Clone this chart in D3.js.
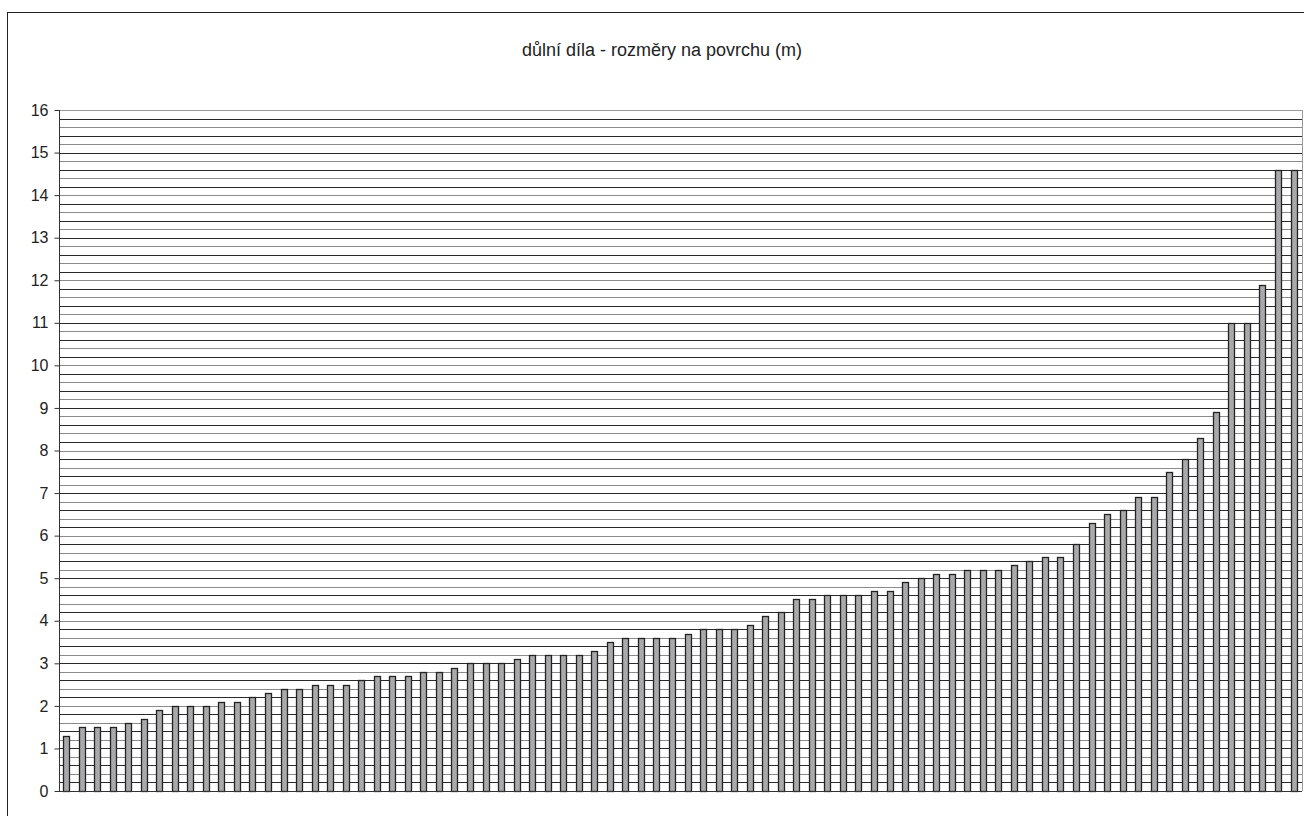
<!DOCTYPE html>
<html>
<head>
<meta charset="utf-8">
<script src="https://cdn.jsdelivr.net/npm/d3@7"></script>
<style>
  html, body { margin: 0; padding: 0; background: #fff; }
  svg { display: block; }
</style>
</head>
<body>
<svg id="chart" width="1304" height="816"></svg>
<script>
const title = "důlní díla - rozměry na povrchu (m)";
const values = [
  1.3, 1.5, 1.5, 1.5, 1.6, 1.7, 1.9, 2.0, 2.0, 2.0,
  2.1, 2.1, 2.2, 2.3, 2.4, 2.4, 2.5, 2.5, 2.5, 2.6,
  2.7, 2.7, 2.7, 2.8, 2.8, 2.9, 3.0, 3.0, 3.0, 3.1,
  3.2, 3.2, 3.2, 3.2, 3.3, 3.5, 3.6, 3.6, 3.6, 3.6,
  3.7, 3.8, 3.8, 3.8, 3.9, 4.1, 4.2, 4.5, 4.5, 4.6,
  4.6, 4.6, 4.7, 4.7, 4.9, 5.0, 5.1, 5.1, 5.2, 5.2,
  5.2, 5.3, 5.4, 5.5, 5.5, 5.8, 6.3, 6.5, 6.6, 6.9,
  6.9, 7.5, 7.8, 8.3, 8.9, 11.0, 11.0, 11.9, 14.6, 14.6
];
const categories = values.map((v, i) => String(i + 1));
const yTicks = [0, 1, 2, 3, 4, 5, 6, 7, 8, 9, 10, 11, 12, 13, 14, 15, 16];
const yMax = 16;
const gridStep = 0.2;

const svg = d3.select("#chart");
const plot = { left: 59, right: 1302, top: 110, bottom: 791 };

// outer border
svg.append("rect")
  .attr("x", 7.5).attr("y", 12.5)
  .attr("width", 1310).attr("height", 820)
  .attr("fill", "none").attr("stroke", "#222").attr("stroke-width", 1);

svg.append("text")
  .attr("x", 662).attr("y", 56)
  .attr("text-anchor", "middle")
  .attr("font-family", "'Liberation Sans', Arial, sans-serif")
  .attr("font-size", 18)
  .attr("fill", "#222")
  .text(title);

const x = d3.scaleBand()
  .domain(categories)
  .range([plot.left, plot.right])
  .paddingInner(0.52)
  .paddingOuter(0.26);

const y = d3.scaleLinear().domain([0, yMax]).range([plot.bottom, plot.top]);

// grid lines every 0.2
const gridVals = d3.range(0, yMax + 1e-9, gridStep).map(v => +v.toFixed(1));
svg.append("g").selectAll("line")
  .data(gridVals.filter(v => v > 0))
  .join("line")
  .attr("x1", plot.left).attr("x2", plot.right)
  .attr("y1", d => Math.round(y(d)) + 0.5)
  .attr("y2", d => Math.round(y(d)) + 0.5)
  .attr("stroke", (d, i) => (i % 2 === 0 ? "#2a2a2a" : "#8a8a8a"))
  .attr("stroke-width", 1);

// right and top border of plot
svg.append("line")
  .attr("x1", plot.right + 0.5).attr("x2", plot.right + 0.5)
  .attr("y1", plot.top).attr("y2", plot.bottom)
  .attr("stroke", "#999").attr("stroke-width", 1);
svg.append("line")
  .attr("x1", plot.left).attr("x2", plot.right)
  .attr("y1", plot.top + 0.5).attr("y2", plot.top + 0.5)
  .attr("stroke", "#999").attr("stroke-width", 1);

// bars
svg.append("g").selectAll("rect")
  .data(values)
  .join("rect")
  .attr("x", (d, i) => Math.round(x(categories[i])) + 0.5)
  .attr("y", d => Math.round(y(d)) + 0.5)
  .attr("width", Math.round(x.bandwidth()) - 1)
  .attr("height", d => Math.round(y(0)) - Math.round(y(d)))
  .attr("fill", "#a9a9ab")
  .attr("stroke", "#222")
  .attr("stroke-width", 1.3);

// baseline
svg.append("line")
  .attr("x1", plot.left).attr("x2", plot.right)
  .attr("y1", Math.round(y(0)) + 0.5).attr("y2", Math.round(y(0)) + 0.5)
  .attr("stroke", "#333").attr("stroke-width", 1.2);

// y axis
const yAxis = d3.axisLeft(y).tickValues(yTicks).tickSize(5).tickPadding(6).tickFormat(d3.format("d"));
const gy = svg.append("g")
  .attr("transform", `translate(${plot.left + 0.5},0)`)
  .call(yAxis);
gy.select(".domain").attr("stroke", "#333").attr("d", `M-0,${plot.top}V${plot.bottom}`);
gy.selectAll(".tick line").attr("stroke", "#333");
gy.selectAll(".tick text")
  .attr("font-family", "'Liberation Sans', Arial, sans-serif")
  .attr("font-size", 16)
  .attr("fill", "#222");
</script>
</body>
</html>
